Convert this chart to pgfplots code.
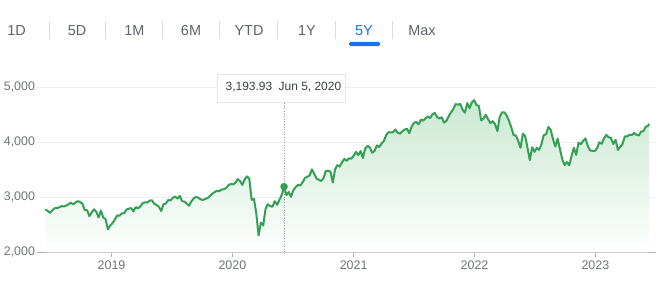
\documentclass[border=0pt]{standalone}
\usepackage{pgfplots}
\pgfplotsset{compat=1.18}
\usepackage{pgfplotstable}
\usetikzlibrary{shadows}
\usepackage{fontspec}
\setmainfont{Liberation Sans}
\definecolor{gline}{RGB}{52,160,83}
\definecolor{gfill}{RGB}{202,233,210}
\definecolor{tickgray}{RGB}{112,117,122}
\definecolor{tabgray}{RGB}{95,99,104}
\definecolor{tipgray}{RGB}{60,64,67}
\definecolor{gblue}{RGB}{26,115,232}
\definecolor{sepgray}{RGB}{218,220,224}
\definecolor{gridgray}{RGB}{238,240,241}
\definecolor{basegray}{RGB}{176,179,184}

\pgfplotstableread{
d v
165 2779
172 2754
179 2718
186 2759
193 2801
200 2802
207 2818
214 2840
221 2833
228 2850
235 2874
242 2902
249 2872
256 2905
263 2930
270 2914
277 2885
284 2767
291 2768
298 2658
305 2723
312 2781
319 2736
326 2633
333 2760
340 2633
347 2600
354 2417
361 2486
368 2532
375 2596
382 2671
389 2665
396 2707
403 2708
410 2776
417 2793
424 2804
431 2743
438 2822
445 2800
452 2834
459 2893
466 2907
473 2905
480 2940
487 2946
494 2881
501 2860
508 2826
515 2752
522 2873
529 2887
536 2950
543 2942
550 2990
557 3014
564 2977
571 3026
578 2932
585 2919
592 2889
599 2847
606 2926
613 2979
620 3007
627 2992
634 2962
641 2952
648 2970
655 2986
662 3023
669 3067
676 3093
683 3120
690 3110
697 3141
704 3146
711 3169
718 3221
725 3240
732 3235
739 3265
746 3330
753 3295
760 3226
767 3328
774 3380
781 3338
788 2954
795 2972
802 2711
809 2305
816 2541
823 2489
830 2790
837 2875
844 2837
851 2831
858 2930
865 2864
872 2955
879 3044
886 3193.93
893 3041
900 3098
907 3009
914 3130
921 3185
928 3225
935 3216
942 3271
949 3351
956 3373
963 3397
970 3508
977 3427
984 3341
991 3319
998 3298
1005 3348
1012 3477
1019 3484
1026 3465
1033 3270
1040 3510
1047 3585
1054 3558
1061 3638
1068 3699
1075 3663
1082 3709
1089 3703
1096 3756
1103 3825
1110 3768
1117 3841
1124 3714
1131 3887
1138 3934
1145 3907
1152 3811
1159 3842
1166 3943
1173 3913
1180 3975
1187 4020
1194 4129
1201 4185
1208 4180
1215 4181
1222 4233
1229 4174
1236 4156
1243 4204
1250 4230
1257 4247
1264 4166
1271 4281
1278 4352
1285 4370
1292 4327
1299 4412
1306 4395
1313 4437
1320 4468
1327 4442
1334 4509
1341 4535
1348 4459
1355 4433
1362 4455
1369 4357
1376 4391
1383 4471
1390 4545
1397 4605
1404 4697
1411 4683
1418 4698
1425 4595
1432 4538
1439 4712
1446 4621
1453 4726
1460 4766
1467 4677
1474 4663
1481 4398
1488 4432
1495 4501
1502 4419
1509 4349
1516 4385
1523 4329
1530 4204
1537 4463
1544 4543
1551 4546
1558 4488
1565 4393
1572 4272
1579 4132
1586 4123
1593 4024
1600 3901
1607 4158
1614 4109
1621 3901
1628 3675
1635 3912
1642 3825
1649 3899
1656 3863
1663 3962
1670 4130
1677 4145
1684 4280
1691 4228
1698 4058
1705 3924
1712 4067
1719 3873
1726 3693
1733 3586
1740 3640
1747 3583
1754 3752
1761 3901
1768 3771
1775 3993
1782 3965
1789 4026
1796 4072
1803 3934
1810 3852
1817 3845
1824 3840
1831 3895
1838 3999
1845 3973
1852 4071
1859 4136
1866 4090
1873 4079
1880 3970
1887 4046
1894 3862
1901 3917
1908 3971
1915 4109
1922 4105
1929 4138
1936 4133
1943 4169
1950 4136
1957 4124
1964 4192
1971 4205
1978 4282
1985 4299
1988 4338
}\spx

\begin{document}
\begin{tikzpicture}
\useasboundingbox (0,0) rectangle (659bp,-289bp);
\fill[white] (0,0) rectangle (659bp,-289bp);
% range tabs
\foreach \x/\t in {16.5/1D,77/5D,134.5/1M,191/6M,249/YTD,307/1Y,422/Max}
  \node[text=tabgray, font=\fontsize{14.5}{16}\selectfont, inner sep=0pt] at (\x bp,-30.3bp) {\t};
\node[text=gblue, font=\fontsize{14.5}{16}\selectfont, inner sep=0pt] at (364bp,-30.3bp) {5Y};
\foreach \x in {49,105.7,162.3,219.3,277.7,335,392.7}
  \draw[sepgray, line width=0.8bp] (\x bp,-21bp) -- (\x bp,-39bp);
\fill[gblue, rounded corners=1.5bp] (349bp,-46bp) rectangle (380bp,-41.8bp);

\begin{axis}[
  at={(36.7bp,-252.3bp)}, anchor=south west,
  scale only axis, width=619.3bp, height=165bp,
  xmin=139, xmax=2009, ymin=2000, ymax=5000,
  axis x line=bottom, axis y line=left,
  x axis line style={-, draw=basegray, line width=1.6bp},
  y axis line style={draw=none},
  xtick={365,730,1096,1461,1826},
  xticklabels={2019,2020,2021,2022,2023},
  ytick={2000,3000,4000,5000},
  yticklabels={{2,000},{3,000},{4,000},{5,000}},
  xtick align=outside, ytick align=inside,
  x tick style={draw=basegray, line width=1bp},
  major tick length=5bp,
  y tick style={draw=none},
  ymajorgrids, grid style={gridgray, line width=1bp},
  ticklabel style={font=\fontsize{12.5}{14}\selectfont, text=tickgray},
  xticklabel style={inner sep=0pt, anchor=north, yshift=-3.5bp},
  yticklabel style={inner sep=0pt, anchor=east, xshift=-1.5bp},
]
\addplot[draw=none, top color=gfill, middle color=gfill!8!white, bottom color=white, forget plot] table[x=d,y=v]{\spx} -- (axis cs:1988,2000) -- (axis cs:165,2000) -- cycle;
\addplot[gline, line width=2bp, line join=round] table[x=d,y=v]{\spx};
\draw[gray!80, line width=0.8bp, dash pattern=on 1bp off 1.6bp] (axis cs:886,2000) -- (axis cs:886,4733);
\addplot[only marks, mark=*, mark size=3.5bp, mark options={draw=gline, fill=gline}] coordinates {(886,3193.93)};
\end{axis}

% tooltip
\node[draw=black!10, fill=white, drop shadow={opacity=0.18, shadow xshift=0bp, shadow yshift=-1bp}, minimum width=128bp, minimum height=28bp, inner sep=0pt, anchor=north west] at (217bp,-73.5bp) {};
\node[anchor=west, inner sep=0pt, text=tipgray, font=\fontsize{12}{14}\selectfont] at (225.5bp,-87.5bp) {3,193.93};
\node[anchor=west, inner sep=0pt, text=tipgray, font=\fontsize{12}{14}\selectfont] at (278.5bp,-87.5bp) {Jun 5, 2020};
\end{tikzpicture}
\end{document}
